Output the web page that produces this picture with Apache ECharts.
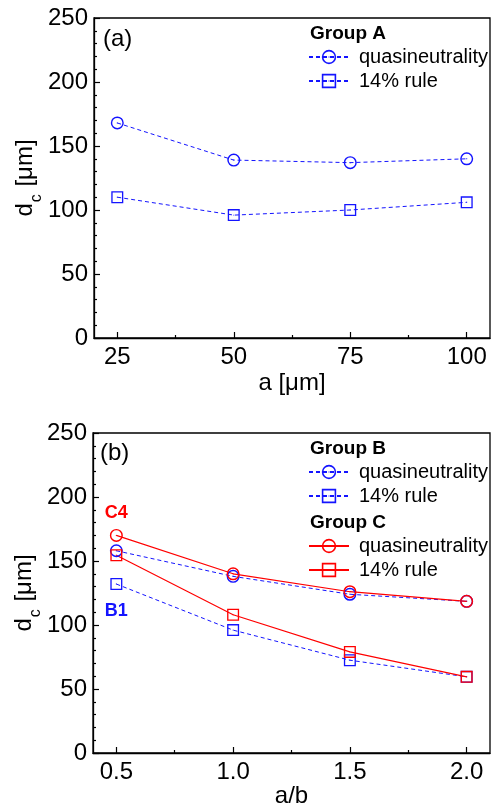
<!DOCTYPE html>
<html>
<head>
<meta charset="utf-8">
<script src="https://cdn.jsdelivr.net/npm/echarts@6/dist/echarts.min.js"></script>
<style>
  html, body { margin: 0; padding: 0; background: #fff; }
  #chart { width: 491px; height: 807px; }
</style>
</head>
<body>
<div id="chart"></div>
<script>
// panel (a): Group A vs a [um]
const aValues = [25, 50, 75, 100];
const groupAQuasi = [168, 139, 137, 140];
const groupA14 = [110, 96, 100, 106];

// panel (b): Groups B and C vs a/b
const abValues = [0.5, 1.0, 1.5, 2.0];
const groupBQuasi = [158, 138, 124, 118.5];
const groupB14 = [132, 96, 72.5, 59.5];
const groupCQuasi = [170, 140, 126, 118.5];
const groupC14 = [154.5, 108, 79, 59.5];

const aTicks = [25, 50, 75, 100];
const aMinorTicks = [37.5, 62.5, 87.5];
const abTicks = [0.5, 1.0, 1.5, 2.0];
const abMinorTicks = [0.75, 1.25, 1.75];

const BLUE = '#1414ff';
const RED = '#ff0000';
const FONT = 'Liberation Sans';

// ring + centre dot symbols
const CIRCLE = 'path://M50,0 A50,50 0 1,1 50,100 A50,50 0 1,1 50,0 Z M50,11 A39,39 0 1,0 50,89 A39,39 0 1,0 50,11 Z M46,46 L54,46 L54,54 L46,54 Z';
const SQUARE = 'path://M0,0 L100,0 L100,100 L0,100 Z M11,11 L11,89 L89,89 L89,11 Z M46,46 L54,46 L54,54 L46,54 Z';

const chart = echarts.init(document.getElementById('chart'));

const zip = (xs, ys) => xs.map((x, i) => [x, ys[i]]);

const mkSeries = (name, xi, xs, ys, color, symbol, size, dashed, firstLabel) => ({
  name: name,
  type: 'line',
  xAxisIndex: xi,
  yAxisIndex: xi === 0 ? 0 : 1,
  data: zip(xs, ys).map((p, i) => (i === 0 && firstLabel) ? { value: p, label: firstLabel } : p),
  symbol: symbol,
  symbolSize: size,
  itemStyle: { color: color, borderWidth: 0 },
  lineStyle: { color: color, width: dashed ? 1 : 1.2, type: dashed ? [4, 3] : 'solid' },
  animation: false
});

const tickFont = { fontFamily: FONT, fontSize: 24, color: '#000' };
const axisLine = { show: true, lineStyle: { color: '#000', width: 1.3 } };

const yAxisOpt = (grid) => ({
  type: 'value',
  gridIndex: grid,
  min: 0,
  max: 250,
  interval: 50,
  name: '{a|d}{s|c}{a| [μm]}',
  nameLocation: 'middle',
  nameGap: 49,
  nameMoveOverlap: false,
  nameTextStyle: {
    rich: {
      a: { fontFamily: FONT, fontSize: 24, color: '#000', lineHeight: 40 },
      s: { fontFamily: FONT, fontSize: 16, color: '#000', lineHeight: 16, verticalAlign: 'bottom', padding: [0, 1, 0, 1] }
    }
  },
  axisLine: axisLine,
  axisTick: { inside: true, length: 6, lineStyle: { color: '#000', width: 1.2 } },
  minorTick: { show: true, splitNumber: 5, length: 3, lineStyle: { color: '#000', width: 1.2 } },
  splitLine: { show: false },
  axisLabel: Object.assign({ margin: 6 }, tickFont)
});

const xMajor = (grid, min, max, ticks, name, fmt, gap) => ({
  type: 'value',
  gridIndex: grid,
  position: 'bottom',
  min: min,
  max: max,
  name: name,
  nameLocation: 'middle',
  nameGap: gap,
  nameMoveOverlap: false,
  nameTextStyle: { fontFamily: FONT, fontSize: 24, color: '#000' },
  axisLine: axisLine,
  axisTick: { inside: true, length: 6, customValues: ticks, lineStyle: { color: '#000', width: 1.2 } },
  axisLabel: Object.assign({ margin: 7, customValues: ticks, formatter: fmt }, tickFont),
  splitLine: { show: false }
});

const xMinor = (grid, min, max, ticks) => ({
  type: 'value',
  gridIndex: grid,
  position: 'bottom',
  min: min,
  max: max,
  axisLine: { show: false },
  axisTick: { inside: true, length: 3, customValues: ticks, lineStyle: { color: '#000', width: 1.2 } },
  axisLabel: { show: false, customValues: ticks },
  splitLine: { show: false }
});

const legendOpt = (names, top) => ({
  orient: 'vertical',
  left: 303,
  top: top,
  itemWidth: 40,
  itemHeight: 18,
  itemGap: 4,
  data: names,
  selectedMode: false,
  formatter: (n) => n.replace(/ \([ABC]\)$/, ''),
  textStyle: { fontFamily: FONT, fontSize: 20, color: '#000', padding: [0, 0, 0, 5] }
});

const textTitle = (text, left, top, size, bold, color) => ({
  text: text,
  left: left,
  top: top,
  padding: 0,
  textStyle: { fontFamily: FONT, fontSize: size, fontWeight: bold ? 'bold' : 'normal', color: color || '#000' }
});

chart.setOption({
  backgroundColor: '#fff',
  grid: [
    { left: 94, top: 18, width: 396, height: 320, show: true, borderColor: '#000', borderWidth: 1.3, outerBoundsMode: 'none' },
    { left: 93, top: 433, width: 397, height: 320, show: true, borderColor: '#000', borderWidth: 1.3, outerBoundsMode: 'none' }
  ],
  title: [
    textTitle('(a)', 103, 27, 24, false),
    textTitle('Group A', 310, 24, 19, true),
    textTitle('(b)', 100, 441, 24, false),
    textTitle('Group B', 310, 439, 19, true),
    textTitle('Group C', 310, 513, 19, true)
  ],
  legend: [
    legendOpt(['quasineutrality (A)', '14% rule (A)'], 42),
    legendOpt(['quasineutrality (B)', '14% rule (B)'], 457),
    legendOpt(['quasineutrality (C)', '14% rule (C)'], 531)
  ],
  xAxis: [
    xMajor(0, 20, 105, aTicks, 'a [μm]', (v) => String(v), 33),
    xMajor(1, 0.4, 2.1, abTicks, 'a/b', (v) => v.toFixed(1), 31),
    xMinor(0, 20, 105, aMinorTicks),
    xMinor(1, 0.4, 2.1, abMinorTicks)
  ],
  yAxis: [yAxisOpt(0), yAxisOpt(1)],
  series: [
    mkSeries('quasineutrality (A)', 0, aValues, groupAQuasi, BLUE, CIRCLE, 13, true),
    mkSeries('14% rule (A)', 0, aValues, groupA14, BLUE, SQUARE, 12, true),
    mkSeries('quasineutrality (B)', 1, abValues, groupBQuasi, BLUE, CIRCLE, 13, true),
    mkSeries('14% rule (B)', 1, abValues, groupB14, BLUE, SQUARE, 12, true, {
      show: true, position: 'bottom', distance: 12, formatter: 'B1',
      fontFamily: FONT, fontSize: 18, fontWeight: 'bold', color: BLUE
    }),
    mkSeries('quasineutrality (C)', 1, abValues, groupCQuasi, RED, CIRCLE, 13, false, {
      show: true, position: 'top', distance: 7, formatter: 'C4',
      fontFamily: FONT, fontSize: 18, fontWeight: 'bold', color: RED
    }),
    mkSeries('14% rule (C)', 1, abValues, groupC14, RED, SQUARE, 12, false)
  ]
});
</script>
</body>
</html>
